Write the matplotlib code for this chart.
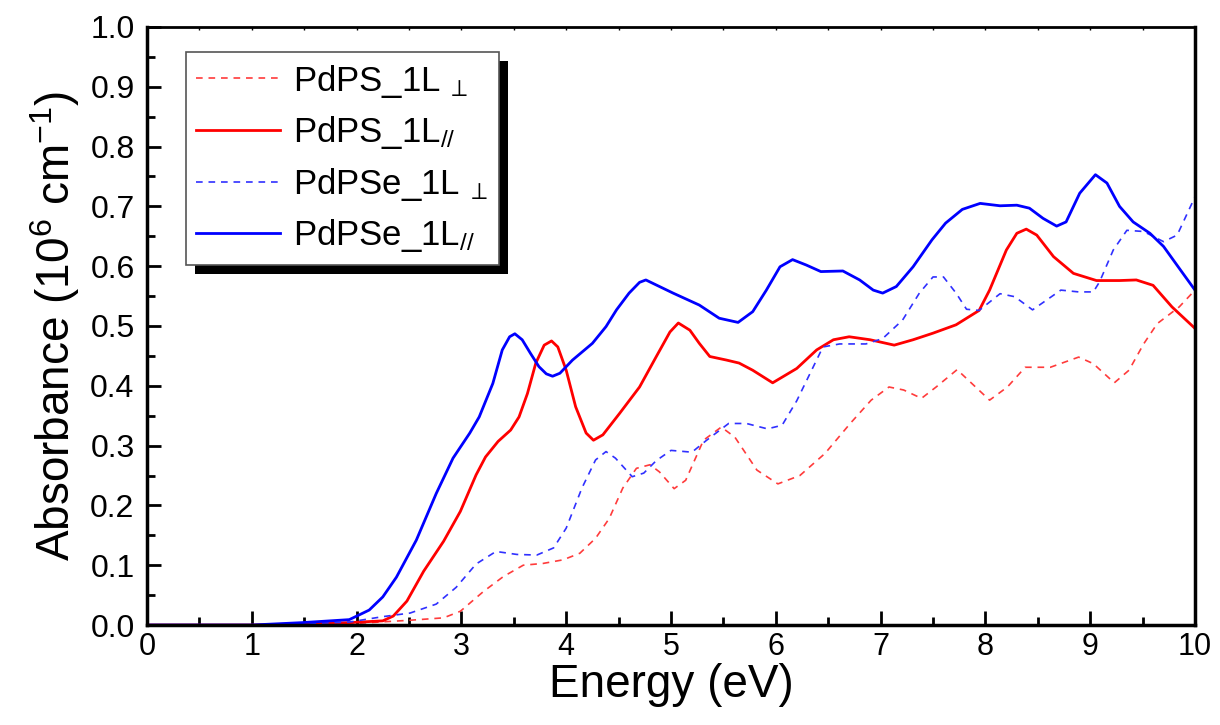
import matplotlib
matplotlib.use("Agg")
import matplotlib.pyplot as plt
from matplotlib.patches import Rectangle
from matplotlib.ticker import MultipleLocator, FormatStrFormatter

# Absorption spectra of PdPS and PdPSe monolayers (in-plane // and out-of-plane ⊥)
pdps_perp_e = [0.0, 0.5, 1.0, 1.5, 1.93, 2.51, 2.83, 2.99, 3.21, 3.40, 3.59, 3.78, 3.97, 4.13,
               4.28, 4.41, 4.54, 4.67, 4.80, 4.89, 5.03, 5.14, 5.31, 5.48, 5.61, 5.82,
               6.02, 6.23, 6.47, 6.71, 6.91, 7.08, 7.22, 7.39, 7.53, 7.73, 7.87, 8.04,
               8.21, 8.38, 8.62, 8.89, 9.03, 9.23, 9.37, 9.51, 9.64, 9.85, 10.0]
pdps_perp_a = [0.0, 0.0, 0.0, 0.001, 0.002, 0.008, 0.012, 0.023, 0.056, 0.081, 0.100, 0.103, 0.109, 0.120,
               0.145, 0.178, 0.229, 0.262, 0.268, 0.256, 0.228, 0.242, 0.309, 0.331, 0.314, 0.259,
               0.236, 0.250, 0.287, 0.337, 0.376, 0.398, 0.393, 0.379, 0.398, 0.427, 0.404, 0.376,
               0.398, 0.431, 0.431, 0.448, 0.437, 0.405, 0.426, 0.470, 0.504, 0.532, 0.560]

pdps_par_e = [0.0, 0.5, 1.0, 1.5, 1.93, 2.25, 2.35, 2.48, 2.64, 2.83, 2.99, 3.14, 3.23, 3.35,
              3.47, 3.55, 3.63, 3.71, 3.79, 3.86, 3.92, 4.00, 4.09, 4.19, 4.26, 4.35,
              4.51, 4.70, 4.86, 4.99, 5.07, 5.18, 5.27, 5.37, 5.53, 5.65, 5.78, 5.97,
              6.20, 6.39, 6.55, 6.70, 6.90, 7.13, 7.31, 7.50, 7.72, 7.94, 8.04, 8.20,
              8.30, 8.39, 8.49, 8.65, 8.84, 9.06, 9.28, 9.44, 9.60, 9.78, 10.0]
pdps_par_a = [0.0, 0.0, 0.0, 0.002, 0.004, 0.007, 0.015, 0.040, 0.090, 0.140, 0.190, 0.251, 0.281, 0.307,
              0.326, 0.348, 0.387, 0.438, 0.468, 0.475, 0.465, 0.426, 0.365, 0.321, 0.309, 0.318,
              0.354, 0.398, 0.449, 0.490, 0.505, 0.493, 0.471, 0.449, 0.443, 0.438, 0.426, 0.405,
              0.429, 0.460, 0.477, 0.482, 0.477, 0.468, 0.477, 0.488, 0.502, 0.526, 0.560, 0.627,
              0.655, 0.662, 0.652, 0.616, 0.588, 0.576, 0.576, 0.577, 0.568, 0.532, 0.496]

pdpse_perp_e = [0.0, 0.5, 1.0, 1.5, 1.93, 2.25, 2.51, 2.76, 2.95, 3.14, 3.33, 3.53, 3.72, 3.88,
                4.00, 4.15, 4.28, 4.38, 4.47, 4.63, 4.74, 4.86, 5.00, 5.20, 5.34, 5.55,
                5.72, 5.92, 6.06, 6.20, 6.35, 6.45, 6.61, 6.86, 7.02, 7.21, 7.37, 7.50,
                7.60, 7.72, 7.82, 7.94, 8.14, 8.28, 8.45, 8.72, 8.89, 9.03, 9.09, 9.22,
                9.35, 9.51, 9.70, 9.83, 10.0]
pdpse_perp_a = [0.0, 0.0, 0.0, 0.002, 0.005, 0.014, 0.020, 0.035, 0.063, 0.102, 0.123, 0.118, 0.117, 0.129,
                0.162, 0.229, 0.276, 0.290, 0.279, 0.248, 0.254, 0.275, 0.292, 0.289, 0.309, 0.337,
                0.337, 0.328, 0.334, 0.375, 0.429, 0.465, 0.470, 0.470, 0.479, 0.510, 0.555, 0.582,
                0.582, 0.555, 0.528, 0.526, 0.554, 0.549, 0.527, 0.560, 0.557, 0.557, 0.574, 0.627,
                0.660, 0.658, 0.641, 0.652, 0.716]

pdpse_par_e = [0.0, 0.5, 1.0, 1.48, 1.93, 1.99, 2.12, 2.25, 2.38, 2.57, 2.76, 2.92, 3.08, 3.17,
               3.30, 3.39, 3.46, 3.51, 3.58, 3.66, 3.74, 3.81, 3.87, 3.94, 4.06, 4.25,
               4.38, 4.48, 4.60, 4.70, 4.76, 5.02, 5.27, 5.46, 5.64, 5.78, 5.91, 6.04,
               6.16, 6.29, 6.43, 6.64, 6.80, 6.93, 7.02, 7.15, 7.31, 7.49, 7.62, 7.78,
               7.95, 8.14, 8.30, 8.42, 8.55, 8.68, 8.77, 8.90, 9.05, 9.16, 9.28, 9.41,
               9.57, 9.70, 9.86, 10.0]
pdpse_par_a = [0.0, 0.0, 0.0, 0.004, 0.009, 0.014, 0.025, 0.047, 0.080, 0.142, 0.220, 0.279, 0.321, 0.348,
               0.404, 0.460, 0.482, 0.487, 0.477, 0.454, 0.432, 0.420, 0.416, 0.421, 0.443, 0.471,
               0.499, 0.527, 0.555, 0.573, 0.577, 0.555, 0.535, 0.513, 0.506, 0.524, 0.560, 0.599,
               0.611, 0.602, 0.591, 0.592, 0.577, 0.560, 0.555, 0.566, 0.599, 0.644, 0.672, 0.695,
               0.705, 0.701, 0.702, 0.697, 0.680, 0.667, 0.674, 0.722, 0.753, 0.739, 0.700, 0.674,
               0.655, 0.633, 0.594, 0.560]

labels = [r"PdPS_1L$_{\ \perp}$", r"PdPS_1L$_{//}$", r"PdPSe_1L$_{\ \perp}$", r"PdPSe_1L$_{//}$"]

NARROW = ["Liberation Sans Narrow", "Liberation Sans", "DejaVu Sans"]
REGULAR = ["Liberation Sans", "DejaVu Sans"]

plt.rcParams["font.family"] = REGULAR
plt.rcParams["mathtext.fontset"] = "custom"
plt.rcParams["mathtext.rm"] = "Liberation Sans"
plt.rcParams["mathtext.it"] = "Liberation Sans:italic"
plt.rcParams["mathtext.bf"] = "Liberation Sans:bold"

fig = plt.figure(figsize=(12.2, 7.25), dpi=100)
ax = fig.add_axes([0.1205, 0.1379, 0.8590, 0.8249])

dash = (0, (4, 3.5))
ax.plot(pdps_perp_e, pdps_perp_a, color="#ff3b3b", lw=1.2, ls=dash, label=labels[0])
ax.plot(pdps_par_e, pdps_par_a, color="#ff0000", lw=2.0, label=labels[1])
ax.plot(pdpse_perp_e, pdpse_perp_a, color="#3030ff", lw=1.2, ls=dash, label=labels[2])
ax.plot(pdpse_par_e, pdpse_par_a, color="#0000ff", lw=2.0, label=labels[3])

ax.set_xlim(0, 10)
ax.set_ylim(0, 1.0)
ax.xaxis.set_major_locator(MultipleLocator(1))
ax.xaxis.set_minor_locator(MultipleLocator(0.5))
ax.yaxis.set_major_locator(MultipleLocator(0.1))
ax.yaxis.set_minor_locator(MultipleLocator(0.05))
ax.yaxis.set_major_formatter(FormatStrFormatter("%.1f"))

ax.tick_params(axis="both", which="major", direction="in", length=10, width=2)
ax.tick_params(axis="both", which="minor", direction="in", length=6, width=2)
ax.tick_params(axis="x", which="both", top=True)
ax.tick_params(axis="x", which="major", pad=5)
ax.tick_params(axis="y", which="major", pad=9)
for t in ax.xaxis.get_ticklines(minor=False)[1::2] + ax.xaxis.get_ticklines(minor=True)[1::2]:
    t.set_markersize(2.5)
    t.set_markeredgewidth(1)

for lab in ax.get_xticklabels():
    lab.set_fontfamily(NARROW)
    lab.set_fontsize(22)
for lab in ax.get_yticklabels():
    lab.set_fontfamily(REGULAR)
    lab.set_fontsize(23)

for side in ("left", "bottom", "right"):
    ax.spines[side].set_linewidth(2.5)
ax.spines["top"].set_linewidth(2)

ax.set_xlabel("Energy (eV)", fontsize=33, family=NARROW, labelpad=1)
ax.set_ylabel(r"Absorbance (10$^{6}$ cm$^{-1}$)", fontsize=33, family=NARROW, labelpad=6)

leg = ax.legend(loc="upper left", bbox_to_anchor=(0.037, 0.958), fontsize=25,
                frameon=True, fancybox=False, edgecolor="#555555", framealpha=1,
                handlelength=2.4, handletextpad=0.4, borderpad=0.3,
                labelspacing=0.42, borderaxespad=0)
leg.get_frame().set_linewidth(1.2)
leg.set_zorder(6)

# Offset solid black drop shadow behind the legend box
fig.canvas.draw()
bb = leg.get_frame().get_window_extent()
shadow = Rectangle((bb.x0 + 9, bb.y0 - 9), bb.width, bb.height, transform=None,
                   facecolor="black", edgecolor="none", zorder=5.5, clip_on=False)
ax.add_artist(shadow)

fig.savefig("out.png", dpi=100, facecolor="white")
